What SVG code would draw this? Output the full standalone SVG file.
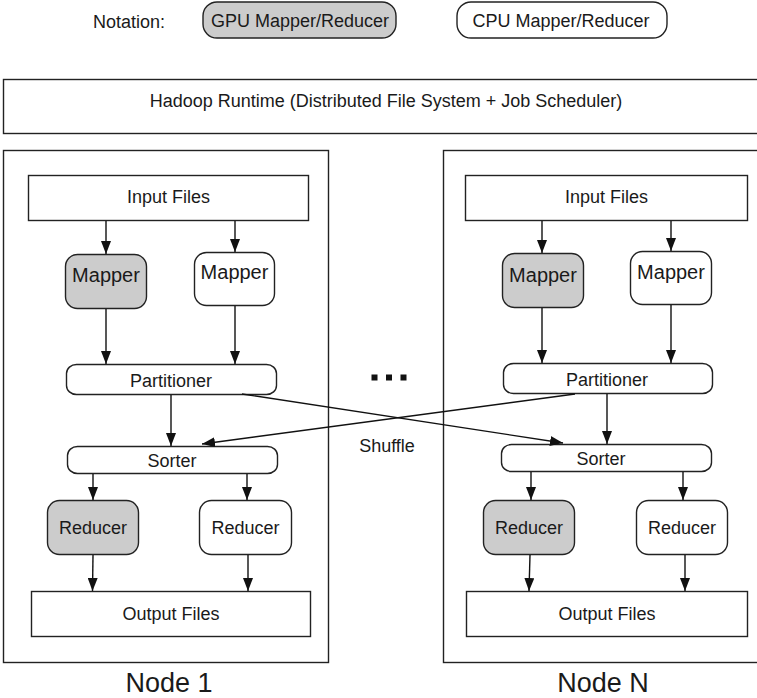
<svg xmlns="http://www.w3.org/2000/svg" width="757" height="698" viewBox="0 0 757 698">
  <style>
    text { font-family: "Liberation Sans", Arial, Helvetica, sans-serif; fill: #1a1a1a; text-anchor: middle; }
    .t18 { font-size: 18px; }
    .t20 { font-size: 20px; }
    .big { font-size: 27px; }
    .box { fill: #ffffff; stroke: #222222; stroke-width: 1.4; }
    .gpu { fill: #cccccc; stroke: #222222; stroke-width: 1.4; }
    .cpu { fill: #ffffff; stroke: #222222; stroke-width: 1.4; }
    .frame { fill: none; stroke: #222222; stroke-width: 1.4; }
    .edge { fill: none; stroke: #111111; stroke-width: 1.4; marker-end: url(#arrow); }
    .dot { fill: #111111; }
  </style>
  <defs>
    <marker id="arrow" viewBox="0 0 13 10" refX="13" refY="5" markerWidth="13" markerHeight="10" markerUnits="userSpaceOnUse" orient="auto">
      <path d="M0,0 L13,5 L0,10 Z" fill="#111111"/>
    </marker>
  </defs>

  <!-- legend -->
  <g id="legend">
    <text class="t18" x="129" y="28">Notation:</text>
    <rect class="gpu" x="203" y="2" width="193" height="36" rx="14" ry="14"/>
    <text class="t18" x="300" y="27">GPU Mapper/Reducer</text>
    <rect class="cpu" x="457" y="2" width="210" height="36" rx="14" ry="14"/>
    <text class="t18" x="561" y="27">CPU Mapper/Reducer</text>
  </g>

  <!-- runtime bar -->
  <g id="hadoop-runtime">
    <rect class="box" x="3.5" y="79.5" width="770" height="54"/>
    <text class="t18" x="386" y="107">Hadoop Runtime (Distributed File System + Job Scheduler)</text>
  </g>

  <!-- node 1 -->
  <g id="node-1">
    <rect class="frame" x="3.5" y="150.5" width="325" height="512"/>
    <text class="big" x="169" y="692">Node 1</text>
  </g>
  <g id="n1-input">
    <rect class="box" x="28.5" y="175.5" width="280" height="45"/>
    <text class="t18" x="168.5" y="203">Input Files</text>
  </g>
  <g id="n1-mapper-gpu">
    <rect class="gpu" x="65.5" y="254.5" width="81" height="54" rx="12" ry="12"/>
    <text class="t20" x="106" y="282">Mapper</text>
  </g>
  <g id="n1-mapper-cpu">
    <rect class="cpu" x="194.5" y="252.5" width="80" height="53" rx="12" ry="12"/>
    <text class="t20" x="234.5" y="279">Mapper</text>
  </g>
  <g id="n1-partitioner">
    <rect class="box" x="66.5" y="364.5" width="210" height="30" rx="10" ry="9"/>
    <text class="t18" x="171" y="387">Partitioner</text>
  </g>
  <g id="n1-sorter">
    <rect class="box" x="67.5" y="446.5" width="210" height="27" rx="10" ry="9"/>
    <text class="t18" x="172" y="467">Sorter</text>
  </g>
  <g id="n1-reducer-gpu">
    <rect class="gpu" x="47.5" y="500.5" width="91" height="54" rx="12" ry="12"/>
    <text class="t18" x="93" y="534">Reducer</text>
  </g>
  <g id="n1-reducer-cpu">
    <rect class="cpu" x="199.5" y="500.5" width="92" height="54" rx="12" ry="12"/>
    <text class="t18" x="245.5" y="534">Reducer</text>
  </g>
  <g id="n1-output">
    <rect class="box" x="31.5" y="591.5" width="279" height="45"/>
    <text class="t18" x="171" y="620">Output Files</text>
  </g>

  <!-- node N -->
  <g id="node-n">
    <rect class="frame" x="443.5" y="150.5" width="330" height="512"/>
    <text class="big" x="603" y="692">Node N</text>
  </g>
  <g id="nn-input">
    <rect class="box" x="465.5" y="175.5" width="282" height="45"/>
    <text class="t18" x="606.5" y="203">Input Files</text>
  </g>
  <g id="nn-mapper-gpu">
    <rect class="gpu" x="502.5" y="253.5" width="81" height="54" rx="12" ry="12"/>
    <text class="t20" x="543" y="282">Mapper</text>
  </g>
  <g id="nn-mapper-cpu">
    <rect class="cpu" x="630.5" y="251.5" width="81" height="53" rx="12" ry="12"/>
    <text class="t20" x="671" y="279">Mapper</text>
  </g>
  <g id="nn-partitioner">
    <rect class="box" x="503.5" y="363.5" width="209" height="30" rx="10" ry="9"/>
    <text class="t18" x="607" y="386">Partitioner</text>
  </g>
  <g id="nn-sorter">
    <rect class="box" x="501.5" y="444.5" width="210" height="27" rx="10" ry="9"/>
    <text class="t18" x="601" y="465">Sorter</text>
  </g>
  <g id="nn-reducer-gpu">
    <rect class="gpu" x="483.5" y="500.5" width="91" height="54" rx="12" ry="12"/>
    <text class="t18" x="529" y="534">Reducer</text>
  </g>
  <g id="nn-reducer-cpu">
    <rect class="cpu" x="636.5" y="500.5" width="91" height="54" rx="12" ry="12"/>
    <text class="t18" x="682" y="534">Reducer</text>
  </g>
  <g id="nn-output">
    <rect class="box" x="466.5" y="591.5" width="281" height="45"/>
    <text class="t18" x="607" y="620">Output Files</text>
  </g>

  <!-- ellipsis between nodes and shuffle label -->
  <g id="ellipsis">
    <rect class="dot" x="371.5" y="374.5" width="6" height="6"/>
    <rect class="dot" x="386" y="374.5" width="6" height="6"/>
    <rect class="dot" x="400.5" y="374.5" width="6" height="6"/>
  </g>
  <g id="shuffle-label">
    <text class="t18" x="387" y="452">Shuffle</text>
  </g>

  <!-- connectors -->
  <g id="connectors">
    <line class="edge" x1="106" y1="221" x2="106" y2="254"/>
    <line class="edge" x1="235" y1="221" x2="235" y2="252"/>
    <line class="edge" x1="106" y1="309" x2="106" y2="364"/>
    <line class="edge" x1="235" y1="306" x2="235" y2="364"/>
    <line class="edge" x1="171" y1="395" x2="171" y2="446"/>
    <line class="edge" x1="93" y1="474" x2="93" y2="500"/>
    <line class="edge" x1="247" y1="474" x2="247" y2="500"/>
    <line class="edge" x1="93" y1="555" x2="92.5" y2="591"/>
    <line class="edge" x1="248" y1="555" x2="248" y2="591"/>

    <line class="edge" x1="542" y1="221" x2="542" y2="253"/>
    <line class="edge" x1="671" y1="221" x2="671" y2="251"/>
    <line class="edge" x1="542" y1="308" x2="542" y2="363"/>
    <line class="edge" x1="671" y1="305" x2="671" y2="363"/>
    <line class="edge" x1="607" y1="394" x2="607" y2="444"/>
    <line class="edge" x1="531" y1="472" x2="531" y2="500"/>
    <line class="edge" x1="683" y1="472" x2="683" y2="500"/>
    <line class="edge" x1="530" y1="555" x2="529" y2="591"/>
    <line class="edge" x1="685" y1="555" x2="685" y2="591"/>

    <!-- shuffle: partitioners feed the other node's sorter -->
    <line class="edge" x1="242" y1="394" x2="563" y2="443"/>
    <line class="edge" x1="575" y1="394" x2="202" y2="444"/>
  </g>
</svg>
